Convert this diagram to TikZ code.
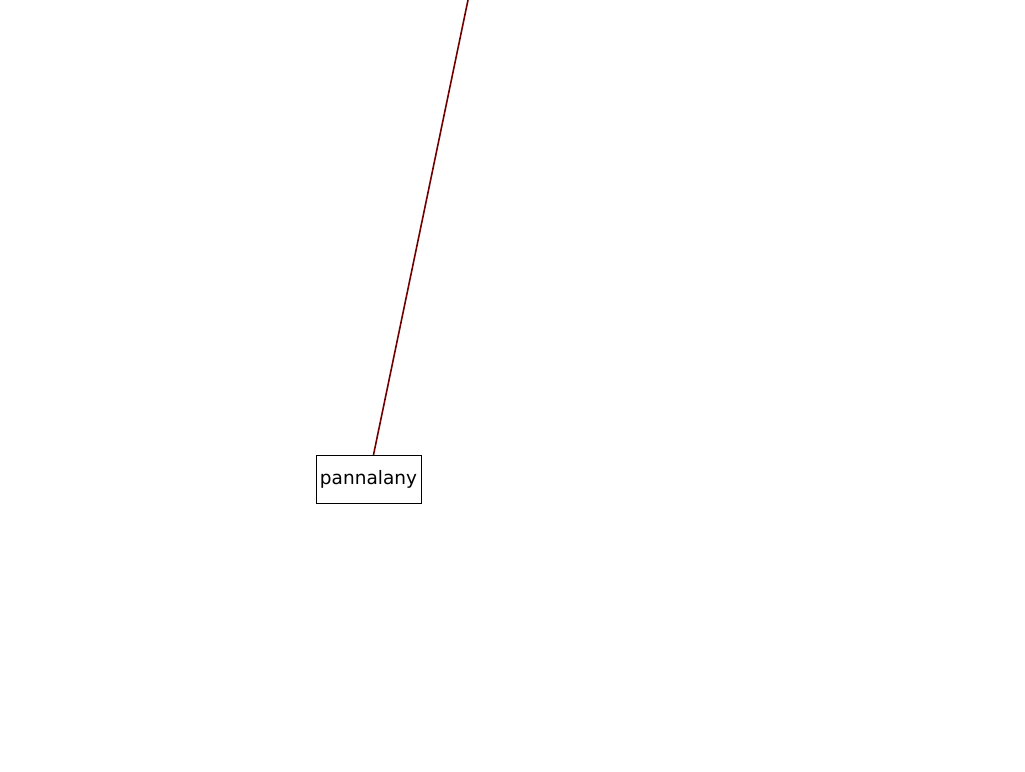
\documentclass[tikz,border=0pt]{standalone}
\usepackage{fontspec}
\setmainfont{DejaVu Sans}
\definecolor{linkred}{HTML}{700000}

\begin{document}
\begin{tikzpicture}[x=1pt,y=-1pt,font=\fontsize{18.5}{21}\selectfont,
    wordbox/.style={draw,thin,fill=white,minimum width=105pt,minimum height=48pt,inner sep=2pt}]
  \useasboundingbox (0,0) rectangle (1025,771);
  % free end of the link, on the top edge
  \coordinate (top) at (468,0);
  \node[wordbox] (pannalany) at (368.5,479) {pannalany};
  \draw[linkred,line width=1.6pt] (top) -- (pannalany);
\end{tikzpicture}
\end{document}
